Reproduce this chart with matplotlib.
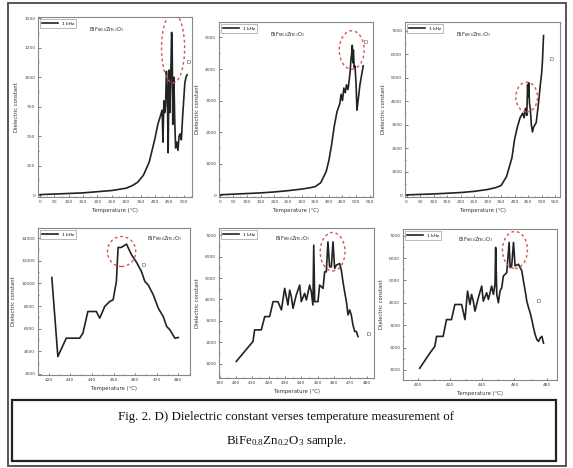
import matplotlib
matplotlib.use("Agg")
import matplotlib.pyplot as plt
from matplotlib.patches import Ellipse, Rectangle
from matplotlib.ticker import AutoMinorLocator

plt.rcParams["mathtext.fontset"] = "custom"
plt.rcParams["mathtext.rm"] = "Liberation Serif"
plt.rcParams["mathtext.it"] = "Liberation Serif:italic"

# ---------------- data ----------------
t1 = [0, 25, 50, 100, 150, 200, 250, 300, 320, 340, 360, 380, 400, 410, 420, 425, 428, 431, 434, 437,
      440, 443, 446, 449, 452, 455, 458, 460, 462, 464, 466, 469, 472, 476, 480, 484, 488, 492, 496,
      500, 504, 508, 512]
e1 = [5, 8, 10, 15, 20, 30, 40, 60, 80, 110, 170, 280, 480, 600, 680, 720, 450, 800, 700, 760,
      1050, 900, 360, 1060, 700, 1000, 1380, 1300, 600, 950, 1000, 620, 400, 450, 380, 500, 520, 470,
      650, 800, 950, 1000, 1020]

t2 = [0, 50, 100, 150, 200, 250, 300, 330, 350, 370, 390, 400, 410, 420, 430, 440, 445, 450, 455, 460,
      465, 470, 474, 478, 481, 484, 486, 488, 490, 493, 496, 500, 503, 506, 510, 514, 518, 522, 526]
e2 = [20, 40, 60, 80, 110, 150, 200, 240, 280, 400, 750, 1100, 1600, 2200, 2650, 2900, 3200, 3000, 3400,
      3250, 3500, 3350, 3600, 3900, 4300, 4500, 4750, 4200, 4600, 4050, 4100, 3500, 2700, 2900, 3200,
      3500, 3700, 3900, 4100]

t3 = [0, 50, 100, 150, 200, 250, 300, 330, 350, 370, 390, 400, 410, 420, 430, 435, 440, 445, 448, 450,
      452, 455, 458, 462, 466, 470, 475, 480, 485, 490, 495, 500, 503, 507]
e3 = [20, 40, 60, 90, 120, 170, 250, 330, 420, 800, 1600, 2400, 2900, 3300, 3500, 3300, 3700, 3400, 4700,
      4200, 4800, 3900, 3700, 3000, 2700, 2900, 3000, 3100, 3600, 4100, 4700, 5200, 5700, 6800]

t4 = [421.4, 424.2, 428.1, 434.3, 435.8, 438.1, 442.0, 443.6, 445.9, 448.2, 449.8, 451.3, 452.1, 453.6,
      456.0, 458.3, 460.6, 462.9, 464.5, 466.0, 468.4, 470.7, 473.0, 474.6, 476.1, 478.4, 480.0]
e4 = [10525, 3534, 5156, 5156, 5599, 7516, 7516, 6926, 7959, 8401, 8549, 10171, 13180, 13180, 13475,
      12531, 11882, 11056, 10171, 9876, 8991, 7811, 7074, 6189, 5894, 5156, 5215]

t5 = [400.2, 410.4, 411.4, 415.5, 417.6, 420.6, 422.7, 425.7, 427.8, 429.8, 431.8, 432.9, 433.9, 434.9,
      436.9, 439.0, 440.0, 442.0, 443.1, 445.1, 446.1, 447.1, 447.6, 448.2, 450.2, 451.2, 453.3, 454.3,
      455.3, 456.3, 457.3, 458.4, 459.4, 460.4, 461.4, 463.5, 464.5, 465.5, 466.5, 467.6, 468.6, 469.6,
      470.6, 471.6, 472.7, 473.7, 474.7]
e5 = [1109, 2039, 2581, 2581, 3202, 3202, 3899, 3899, 3512, 4519, 3744, 4441, 4131, 3589, 4209, 4674,
      3899, 4286, 3976, 4674, 4364, 3744, 6535, 3899, 3899, 4674, 4519, 5294, 5294, 6690, 5526, 5526,
      6690, 5449, 5604, 5682, 5371, 4829, 4364, 3899, 3279, 3512, 3279, 2814, 2504, 2504, 2271]

t6 = [401.0, 407.3, 410.4, 411.5, 415.6, 417.7, 420.8, 422.9, 427.1, 429.2, 430.8, 432.3, 433.3, 434.4,
      435.4, 437.5, 439.6, 440.6, 442.7, 443.8, 445.8, 446.9, 447.9, 448.3, 449.0, 450.0, 451.0, 452.1,
      453.1, 455.2, 456.7, 457.3, 458.3, 459.4, 460.4, 462.5, 464.6, 465.6, 466.7, 467.7, 468.8, 469.8,
      470.8, 471.9, 472.9, 474.0, 475.0, 476.0, 477.1, 478.1]
e6 = [1075, 1750, 2050, 2500, 2500, 3250, 3250, 3925, 3925, 3250, 4525, 3925, 4375, 4075, 3625, 4225,
      4750, 4075, 4450, 4150, 4750, 4375, 4825, 6475, 4375, 4000, 4525, 4675, 5200, 5350, 6700, 5575,
      5650, 6700, 5650, 5725, 5425, 4975, 4525, 4075, 3775, 3550, 3250, 2875, 2575, 2350, 2275, 2425,
      2500, 2200]

xt_top1 = list(range(0, 501, 50))
xt_top2 = list(range(0, 551, 50))
yt1 = list(range(0, 1501, 250))
yt2 = list(range(0, 5001, 1000))
yt3 = list(range(0, 7001, 1000))
xt4 = list(range(420, 481, 10))
yt4 = list(range(2000, 14001, 2000))
xt5 = list(range(390, 481, 10))
yt5 = list(range(1000, 7001, 1000))
xt6 = list(range(400, 481, 20))
yt6 = list(range(1000, 7001, 1000))

legend_label = "1 kHz"
sample = "BiFe$_{0.8}$Zn$_{0.2}$O$_3$"
caption1 = "Fig. 2. D) Dielectric constant verses temperature measurement of"
caption2 = r"BiFe$_{0.8}$Zn$_{0.2}$O$_{3}$ sample."

# ---------------- layout ----------------
W, H = 573, 468
fig = plt.figure(figsize=(W / 100, H / 100), dpi=100)
fig.patch.set_facecolor("white")

def pos(l, t, r, b):
    return [l / W, 1 - b / H, (r - l) / W, (b - t) / H]

panels = [
    dict(box=(38, 17, 192, 197), t=t1, e=e1, xt=xt_top1, yt=yt1, xl=(-7, 529), yl=(-15, 1510),
         ell=(0.877, 0.828, 0.15, 0.39), d=(0.975, 0.745), txt=(0.33, 0.93)),
    dict(box=(219, 22, 373, 197), t=t2, e=e2, xt=xt_top2, yt=yt2, xl=(-3, 562), yl=(-50, 5490),
         ell=(0.862, 0.84, 0.162, 0.22), d=(0.955, 0.88), txt=(0.33, 0.93)),
    dict(box=(405, 22, 560, 197), t=t3, e=e3, xt=xt_top2, yt=yt3, xl=(-6, 568), yl=(-70, 7380),
         ell=(0.785, 0.571, 0.14, 0.17), d=(0.946, 0.783), txt=(0.33, 0.93)),
    dict(box=(38, 228, 190, 375), t=t4, e=e4, xt=xt4, yt=yt4, xl=(415, 485.4), yl=(1900, 14900),
         ell=(0.55, 0.84, 0.186, 0.204), d=(0.693, 0.748), txt=(0.72, 0.93)),
    dict(box=(219, 228, 374, 378), t=t5, e=e5, xt=xt5, yt=yt5, xl=(389.6, 484.5), yl=(333, 7340),
         ell=(0.733, 0.842, 0.16, 0.256), d=(0.963, 0.291), txt=(0.36, 0.93)),
    dict(box=(403, 229, 557, 380), t=t6, e=e6, xt=xt6, yt=yt6, xl=(390.6, 486.5), yl=(550, 7300),
         ell=(0.727, 0.861, 0.162, 0.245), d=(0.883, 0.52), txt=(0.36, 0.93)),
]

fs_tick = 3.2
for p in panels:
    ax = fig.add_axes(pos(*p["box"]))
    ax.plot(p["t"], p["e"], color="#222222", lw=1.2, label=legend_label)
    ax.set_xlim(*p["xl"])
    ax.set_ylim(*p["yl"])
    ax.set_xticks(p["xt"])
    ax.set_yticks(p["yt"])
    ax.xaxis.set_minor_locator(AutoMinorLocator(2))
    ax.yaxis.set_minor_locator(AutoMinorLocator(2))
    ax.tick_params(which="both", direction="in", labelsize=fs_tick, colors="#444444",
                   length=1.8, width=0.5, pad=2)
    ax.tick_params(which="minor", length=1.0)
    for s in ax.spines.values():
        s.set_color("#888888")
        s.set_linewidth(0.8)
    ax.set_xlabel("Temperature (\u00b0C)", fontsize=3.8, labelpad=3, color="#333333")
    ax.set_ylabel("Dielectric constant", fontsize=3.8, labelpad=4, color="#333333")
    leg = ax.legend(loc="upper left", fontsize=3.2, handlelength=3.5, frameon=True,
                    borderpad=0.5, fancybox=False)
    leg.get_frame().set_edgecolor("#999999")
    leg.get_frame().set_linewidth(0.6)
    ax.text(*p["txt"], sample, transform=ax.transAxes, fontsize=3.8, ha="left", va="center",
            color="#333333")
    cx, cy, w, h = p["ell"]
    ax.add_patch(Ellipse((cx, cy), w, h, transform=ax.transAxes, fill=False,
                         edgecolor="#d9534f", linestyle=(0, (2, 2)), lw=1.0, zorder=5))
    ax.text(*p["d"], "D", transform=ax.transAxes, fontsize=4, ha="center", va="center",
            color="#444444")

# outer frame
fig.add_artist(Rectangle((8 / W, 1 - 466 / H), (566 - 8) / W, (466 - 3) / H,
                         transform=fig.transFigure, fill=False, edgecolor="#555555", lw=1.4))
# caption box
fig.add_artist(Rectangle((12 / W, 1 - 461 / H), (556 - 12) / W, (461 - 400) / H,
                         transform=fig.transFigure, fill=False, edgecolor="#222222", lw=1.6))
fig.text(286 / W, 1 - 417 / H, caption1, ha="center", va="center", fontsize=9.3,
         family="Liberation Serif", color="#111111")
fig.text(286 / W, 1 - 441 / H, caption2, ha="center", va="center", fontsize=9.3,
         family="Liberation Serif", color="#111111")

fig.savefig("out.png", dpi=100)
